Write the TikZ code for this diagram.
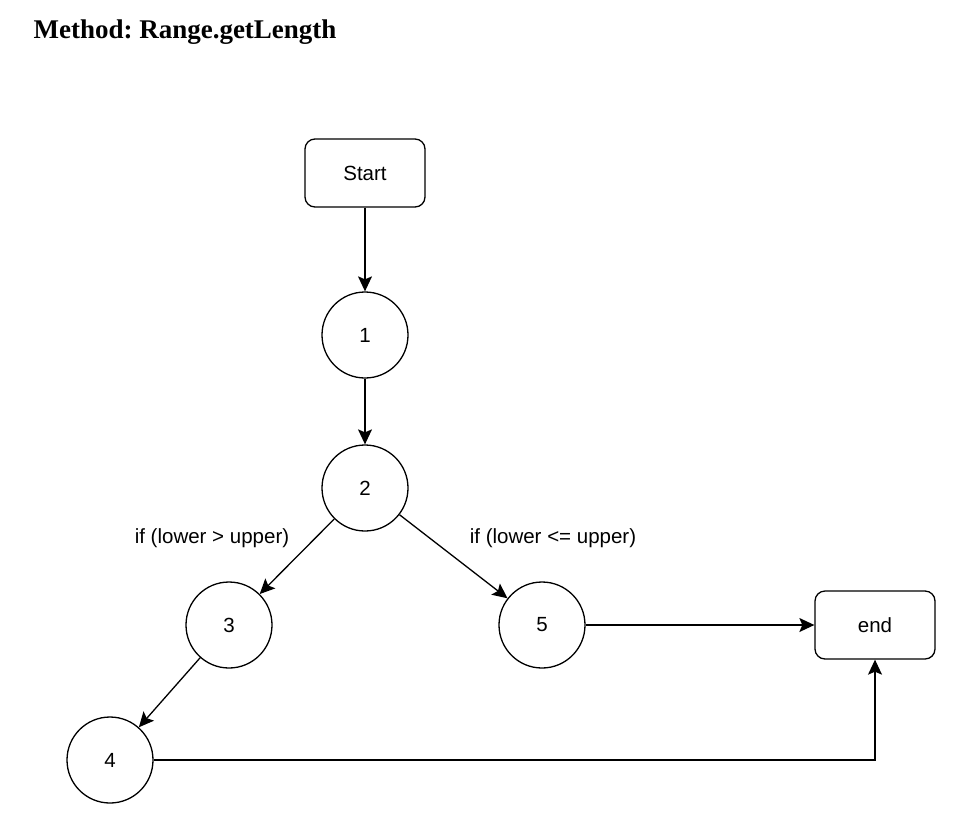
\documentclass[tikz,border=0pt]{standalone}
\usepackage{fontspec}
\setmainfont{Liberation Sans}
\newfontfamily\titlefont{Liberation Serif}
\usetikzlibrary{arrows.meta,positioning}
\frenchspacing

\begin{document}
\begin{tikzpicture}[
    x=1pt, y=-1pt,
    termbox/.style={draw, rounded corners=10pt, line width=1.3pt, minimum width=120pt, minimum height=68pt, font=\fontsize{20.5}{24}\selectfont},
    stmt/.style={draw, circle, line width=1.3pt, minimum size=86pt, inner sep=0pt, font=\fontsize{20.5}{24}\selectfont},
    cond/.style={font=\fontsize{20.5}{24}\selectfont},
    arrow/.style={-{Stealth[length=15pt, width=14pt, inset=3pt]}, line width=1.3pt}
  ]
    \useasboundingbox (0,0) rectangle (966,820);

    \node[anchor=west, font=\titlefont\bfseries\fontsize{27}{30}\selectfont] (title) at (30,32) {Method: Range.getLength};

    \node[termbox] (start) at (365,173) {Start};
    \node[stmt] (n1) at (365,335) {1};
    \node[stmt] (n2) at (365,488) {2};
    \node[stmt] (n3) at (229,625) {3};
    \node[stmt] (n5) at (542,625) {5};
    \node[stmt] (n4) at (110,760) {4};
    \node[termbox] (end) at (875,625) {end};

    \node[cond] (c3) at (212,538) {if (lower > upper)};
    \node[cond] (c5) at (553,538) {if (lower <= upper)};

    \draw[arrow] (start) -- (n1);
    \draw[arrow] (n1) -- (n2);
    \draw[arrow] (n2) -- (n3);
    \draw[arrow] (n2) -- (n5);
    \draw[arrow] (n3) -- (n4);
    \draw[arrow] (n5) -- (end);
    \draw[arrow] (n4.east) -| (end.south);
  \end{tikzpicture}
\end{document}
